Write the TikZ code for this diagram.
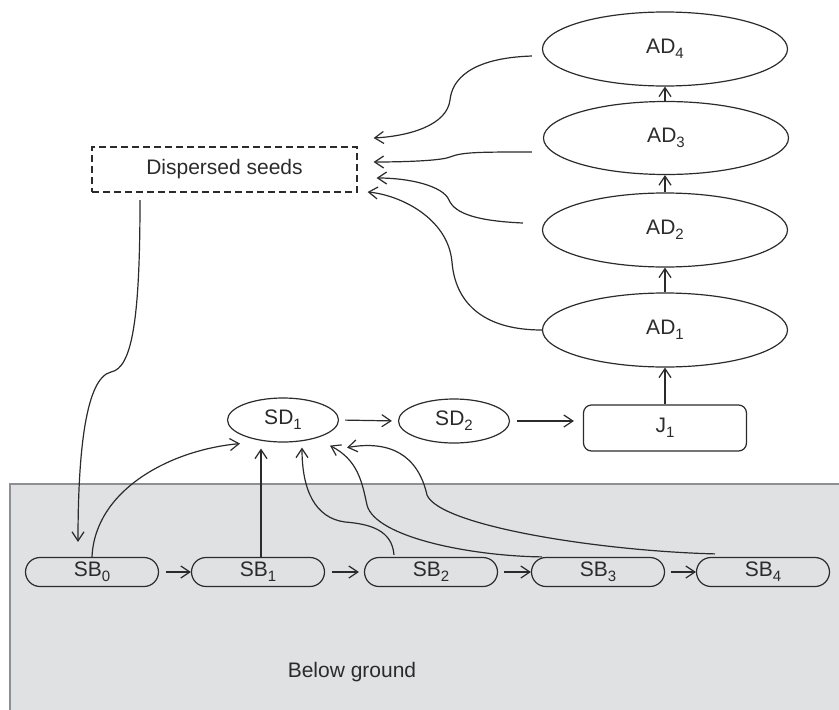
\documentclass[tikz,border=0pt]{standalone}
\usepackage{fontspec}
\setmainfont{Liberation Sans}
\usetikzlibrary{shapes.geometric,shapes.misc,arrows.meta,calc}
\definecolor{ink}{HTML}{2B2B2B}
\definecolor{soil}{HTML}{E0E1E3}
\definecolor{soilline}{HTML}{8E8F92}
\newcommand\mysbs[1]{\raisebox{-5pt}{\fontsize{15}{15}\selectfont #1}}
\tikzset{
  every node/.style={font=\fontsize{21}{25}\selectfont, text=ink},
  arr/.style={draw=ink, line width=1.2pt, -{Straight Barb[length=9pt,width=12pt]}},
  adnode/.style={ellipse, draw=ink, line width=1.2pt, minimum width=245pt, minimum height=74pt, inner sep=0pt},
  sdnode/.style={ellipse, draw=ink, line width=1.2pt, minimum width=111pt, minimum height=44pt, inner sep=0pt},
  sbnode/.style={rounded rectangle, draw=ink, line width=1.2pt, minimum width=133pt, minimum height=29pt, inner sep=0pt},
  jnode/.style={rectangle, rounded corners=8pt, draw=ink, line width=1.2pt, minimum width=163pt, minimum height=46pt, inner sep=0pt},
  dsnode/.style={rectangle, draw=ink, line width=1.2pt, dash pattern=on 7pt off 4pt, minimum width=265pt, minimum height=45pt, inner sep=0pt}
}
\begin{document}
\begin{tikzpicture}[x=1pt,y=-1pt]
\useasboundingbox (0,0) rectangle (839,710);
\fill[soil] (10,484) rectangle (839,710);
\draw[soilline, line width=1.5pt] (10,710) -- (10,484) -- (839,484);

\node[adnode] (AD4) at (665,49) {AD\mysbs{4}};
\node[adnode, minimum height=73pt] (AD3) at (666,138) {AD\mysbs{3}};
\node[adnode] (AD2) at (665,230) {AD\mysbs{2}};
\node[adnode] (AD1) at (665,330) {AD\mysbs{1}};
\node[jnode] (J1) at (665,428) {J\mysbs{1}};
\node[sdnode] (SD1) at (283,420) {SD\mysbs{1}};
\node[sdnode] (SD2) at (454,421) {SD\mysbs{2}};
\node[dsnode] (ds) at (224.5,169.5) {Dispersed seeds};

\node[sbnode] (SB0) at (92,572) {SB\mysbs{0}};
\node[sbnode] (SB1) at (258,572) {SB\mysbs{1}};
\node[sbnode] (SB2) at (431,572) {SB\mysbs{2}};
\node[sbnode] (SB3) at (598,572) {SB\mysbs{3}};
\node[sbnode] (SB4) at (763,572) {SB\mysbs{4}};
\node (bg) at (352,672) {Below ground};

% vertical chain
\draw[arr] (J1.north) -- (AD1.south);
\draw[arr] (AD1.north) -- (AD2.south);
\draw[arr] (AD2.north) -- (AD2.north |- AD3.south);
\draw[arr] (AD2.north |- AD3.north) -- (AD4.south);

% horizontal above ground
\draw[arr, shorten <=6pt, shorten >=6pt] (SD1.east) -- (SD2.west);
\draw[arr, shorten <=7pt, shorten >=9pt] (SD2.east) -- (SD2.east -| J1.west);

% seed bank chain
\draw[arr, shorten <=7pt] (SB0.east) -- (SB1.west);
\draw[arr, shorten <=7pt, shorten >=5pt] (SB1.east) -- (SB2.west);
\draw[arr, shorten <=6pt] (SB2.east) -- (SB3.west);
\draw[arr, shorten <=6pt] (SB3.east) -- (SB4.west);

% adults to dispersed seeds
\draw[arr] ([xshift=-10pt,yshift=-7pt]AD4.west) .. controls (470,58) and (452,80) .. (450,100)
  .. controls (447,125) and (410,136) .. ($(ds.east)+(16,-31.5)$);
\draw[arr] ([xshift=-11pt,yshift=-14pt]AD3.west) .. controls (480,152) and (462,152) .. (450,157)
  .. controls (440,161) and (400,162) .. ($(ds.east)+(16,-7.5)$);
\draw[arr] ([xshift=-19pt,yshift=7pt]AD2.west) .. controls (478,221) and (455,214) .. (449,200)
  .. controls (443,186) and (410,178) .. ($(ds.east)+(19,8.5)$);
\draw[arr] (AD1.west) .. controls (480,330) and (455,300) .. (452,262)
  .. controls (448,218) and (400,195) .. ($(ds.east)+(10,22.5)$);

% dispersed seeds to seed bank
\draw[arr] ([xshift=-84.5pt,yshift=-7.5pt]ds.south) .. controls (140,320) and (132,368) .. (111,372)
  .. controls (86,378) and (78,450) .. ([yshift=15pt]SB0.north -| 78,0);

% seed bank to SD1
\draw[arr] (SB0.north) .. controls (95,490) and (170,450) .. ([xshift=-43pt,yshift=-1pt]SD1.south);
\draw[arr, shorten >=6pt] ([xshift=3pt]SB1.north) -- ([xshift=3pt]SB1.north |- SD1.south);
\draw[arr] ([xshift=-37pt,yshift=2pt]SB2.north) .. controls (392,530) and (370,524) .. (345,522)
  .. controls (315,518) and (302,490) .. ([xshift=19pt,yshift=-5pt]SD1.south);
\draw[arr] ([xshift=-56pt]SB3.north) .. controls (470,556) and (375,537) .. (367,505)
  .. controls (362,482) and (358,460) .. ([xshift=47pt,yshift=-3pt]SD1.south);
\draw[arr] ([xshift=-48pt,yshift=3pt]SB4.north) .. controls (600,551) and (440,526) .. (427,495)
  .. controls (418,455) and (390,440) .. ([xshift=64pt,yshift=-5pt]SD1.south);
\end{tikzpicture}
\end{document}
